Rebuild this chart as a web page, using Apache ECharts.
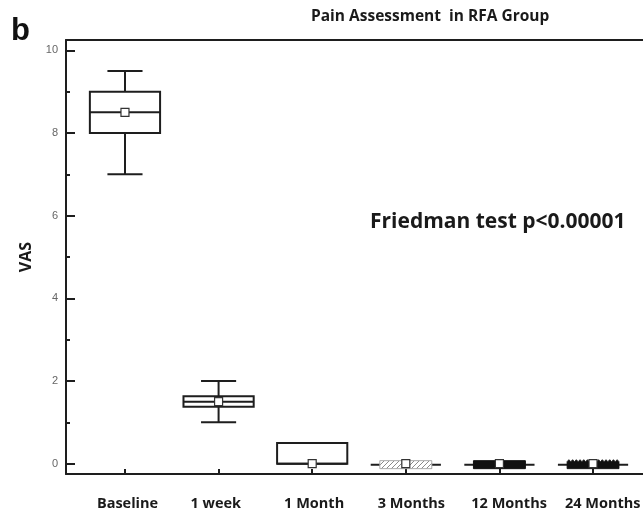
<!DOCTYPE html>
<html><head><meta charset="utf-8">
<script src="https://cdn.jsdelivr.net/npm/echarts@6/dist/echarts.min.js"></script>
<style>html,body{margin:0;padding:0;background:#fff}#c{width:643px;height:513px}</style>
</head><body><div id="c"></div>
<script>
const categories = ['Baseline','1 week','1 Month','3 Months','12 Months','24 Months'];
const positions = [1,2,3,4,5,6];
const whiskerLow = [7, 1, 0, 0, 0, 0];
const q1 = [8, 1.38, 0, 0, 0, 0];
const median = [8.5, 1.5, 0, 0, 0, 0];
const q3 = [9, 1.63, 0.5, 0, 0, 0];
const whiskerHigh = [9.5, 2, 0.5, 0, 0, 0];
const means = [8.5, 1.5, 0, 0, 0, 0];
const fillKinds = ['none','none','none','hatch','solid','saw'];
const yTicks = [0,2,4,6,8,10];
const yMinorTicks = [1,3,5,7,9];

const INK = '#1e1e1e';
const LABEL_SHIFT = 0.3;
const hatch = document.createElement('canvas');
hatch.width = 5; hatch.height = 5;
(function(){const g=hatch.getContext('2d');g.fillStyle='#fff';g.fillRect(0,0,5,5);g.strokeStyle='#8a8a8a';g.lineWidth=1;
g.beginPath();g.moveTo(0,5);g.lineTo(5,0);g.moveTo(-1,1);g.lineTo(1,-1);g.moveTo(4,6);g.lineTo(6,4);g.stroke();})();

const data = positions.map((p,i)=>[p, whiskerLow[i], q1[i], median[i], q3[i], whiskerHigh[i], means[i], i]);

function renderItem(params, api){
  const x = api.value(0), lo = api.value(1), a = api.value(2), md = api.value(3), b = api.value(4), hi = api.value(5), mn = api.value(6);
  const kind = fillKinds[api.value(7)];
  const bw = api.size([0.75,0])[0];
  const cw = api.size([0.375,0])[0];
  const pLo = api.coord([x, lo]), pA = api.coord([x, a]), pMd = api.coord([x, md]), pB = api.coord([x, b]), pHi = api.coord([x, hi]), pMn = api.coord([x, mn]);
  const cx = pMd[0];
  const ch = [];
  const ls = {stroke: INK, lineWidth: 2, fill: null};
  if (kind === 'none') {
    if (hi > b) {
      ch.push({type:'line', shape:{x1:cx,y1:pB[1],x2:cx,y2:pHi[1]}, style:ls});
      ch.push({type:'line', shape:{x1:cx-cw/2,y1:pHi[1],x2:cx+cw/2,y2:pHi[1]}, style:ls});
    }
    if (lo < a) {
      ch.push({type:'line', shape:{x1:cx,y1:pA[1],x2:cx,y2:pLo[1]}, style:ls});
      ch.push({type:'line', shape:{x1:cx-cw/2,y1:pLo[1],x2:cx+cw/2,y2:pLo[1]}, style:ls});
    }
    ch.push({type:'rect', shape:{x:cx-bw/2,y:pB[1],width:bw,height:pA[1]-pB[1]}, style:{stroke:INK,lineWidth:2,fill:'#fff'}});
    ch.push({type:'line', shape:{x1:cx-bw/2,y1:pMd[1],x2:cx+bw/2,y2:pMd[1]}, style:ls});
  } else {
    const fw = bw*0.74, h = 8, top = pMd[1]-h/2+1;
    ch.push({type:'line', shape:{x1:cx-bw/2,y1:pMd[1]+1,x2:cx+bw/2,y2:pMd[1]+1}, style:{stroke:INK,lineWidth:2}});
    if (kind === 'hatch') {
      ch.push({type:'rect', shape:{x:cx-fw/2,y:top,width:fw,height:h}, style:{fill:{image:hatch,repeat:'repeat'},stroke:'#aaa',lineWidth:1}});
    } else if (kind === 'solid') {
      ch.push({type:'rect', shape:{x:cx-fw/2,y:top,width:fw,height:h}, style:{fill:'#111',stroke:'#111',lineWidth:1}});
    } else {
      const pts = [[cx-fw/2, top+h]];
      const n = 14, step = fw/n;
      for (let k=0;k<n;k++){ pts.push([cx-fw/2+k*step, top+1]); pts.push([cx-fw/2+(k+0.5)*step, top-1]); }
      pts.push([cx+fw/2, top+1]); pts.push([cx+fw/2, top+h]);
      ch.push({type:'polygon', shape:{points:pts}, style:{fill:'#111',stroke:'#111',lineWidth:0.8}});
    }
  }
  ch.push({type:'rect', shape:{x:pMn[0]-4,y:pMn[1]-4,width:8,height:8}, style:{fill:'#fff',stroke:'#333',lineWidth:1.2}});
  return {type:'group', children: ch};
}

const chart = echarts.init(document.getElementById('c'), null, {renderer:'canvas'});
chart.setOption({
  animation:false,
  backgroundColor:'#fff',
  grid:{left:66, top:40, width:586, height:434, containLabel:false, outerBoundsMode:'none'},
  xAxis:[{
    type:'value', min:0.37, max:6.63, position:'bottom',
    axisLine:{show:true, onZero:false, lineStyle:{color:INK,width:2}},
    axisTick:{show:true, inside:true, length:5, customValues:positions, lineStyle:{color:INK,width:2}},
    axisLabel:{customValues:positions.map(p=>p-LABEL_SHIFT), align:'left',
      formatter:v=>categories[Math.round(v+LABEL_SHIFT)-1]||'', margin:22, hideOverlap:false,
      fontFamily:'Open Sans', fontWeight:'bold', fontSize:14.5, color:'#1a1a1a'},
    splitLine:{show:false}
  },{
    type:'value', min:0.37, max:6.63, position:'top',
    axisLine:{show:true, onZero:false, lineStyle:{color:INK,width:2}},
    axisTick:{show:false}, axisLabel:{show:false}, splitLine:{show:false}
  }],
  yAxis:[{
    type:'value', min:-0.25, max:10.25,
    name:'VAS', nameLocation:'middle', nameRotate:90, nameGap:29,
    nameTextStyle:{fontFamily:'Open Sans', fontWeight:'bold', fontSize:16, color:'#1a1a1a'},
    axisLine:{show:true, onZero:false, lineStyle:{color:INK,width:2}},
    axisTick:{show:true, inside:true, length:9, customValues:yTicks, lineStyle:{color:INK,width:2}},
    axisLabel:{customValues:yTicks, margin:8, fontFamily:'Liberation Sans', fontSize:11, color:'#666'},
    splitLine:{show:false}
  },{
    type:'value', min:-0.25, max:10.25, position:'left',
    axisLine:{show:false},
    axisTick:{show:true, inside:true, length:4, customValues:yMinorTicks, lineStyle:{color:INK,width:2}},
    axisLabel:{show:false}, splitLine:{show:false}
  }],
  series:[{
    type:'custom', xAxisIndex:0, yAxisIndex:0, renderItem:renderItem,
    encode:{x:0, y:[1,2,3,4,5,6]}, data:data, clip:false
  }],
  graphic:[
    {type:'text', left:11, top:16, style:{text:'b', font:'bold 31px "Liberation Sans"', fill:'#111'}},
    {type:'text', left:311, top:9, style:{text:'Pain Assessment  in RFA Group', font:'bold 15.5px "Open Sans"', fill:'#1a1a1a'}},
    {type:'text', left:370, top:212, style:{text:'Friedman test p<0.00001', font:'bold 21px "Open Sans"', fill:'#1a1a1a'}}
  ]
});
</script></body></html>
